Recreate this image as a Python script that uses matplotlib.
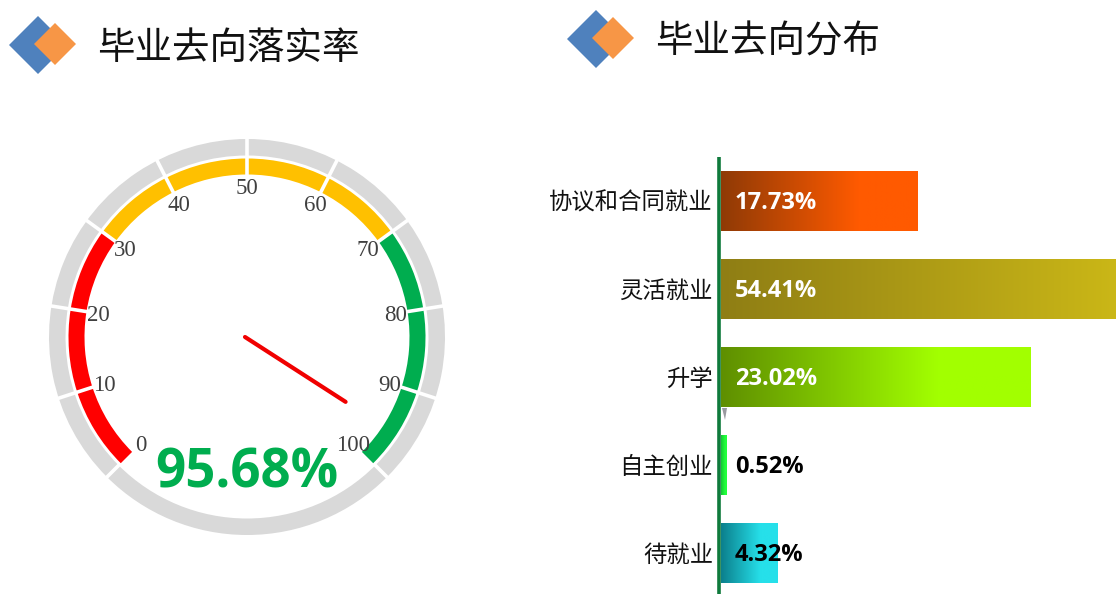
import numpy as np
import matplotlib
matplotlib.use("Agg")
import matplotlib.pyplot as plt
from matplotlib.colors import LinearSegmentedColormap
from matplotlib.patches import Polygon, Wedge

# -------------------------
# DATA
# -------------------------
gauge_value = 95.68
gauge_label = "95.68%"
gauge_ticks = [0, 10, 20, 30, 40, 50, 60, 70, 80, 90, 100]
red_bands = [(0, 10), (10, 20), (20, 30)]
yellow_bands = [(30, 40), (40, 50), (50, 60), (60, 70)]
green_bands = [(70, 80), (80, 90), (90, 100)]

categories = ["协议和合同就业", "灵活就业", "升学", "自主创业", "待就业"]
percent_labels = ["17.73%", "54.41%", "23.02%", "0.52%", "4.32%"]
# bar lengths as drawn in the picture (not quite in line with the labels)
bar_lengths = [14.6, 54.41, 23.0, 0.42, 4.2]
bar_dark = ["#8f3a06", "#8f7e14", "#5f8f00", "#12c832", "#0b7f8c"]
bar_bright = ["#ff5a00", "#dcc818", "#a2ff00", "#22ff3c", "#26e0ea"]
label_colors = ["white", "white", "white", "black", "black"]

title_left = "毕业去向落实率"
title_right = "毕业去向分布"

# -------------------------
# FIGURE
# -------------------------
W, H = 1116, 594
fig = plt.figure(figsize=(W / 100, H / 100), dpi=100, facecolor="white")
cjk = ["Noto Sans CJK SC", "DejaVu Sans"]

page = fig.add_axes([0, 0, 1, 1])
page.set_xlim(0, W)
page.set_ylim(H, 0)
page.axis("off")


# -------------------------
# HEADERS
# -------------------------
def diamond(cx, cy, r, color, z):
    pts = [(cx - r, cy), (cx, cy - r), (cx + r, cy), (cx, cy + r)]
    page.add_patch(Polygon(pts, closed=True, fc=color, ec="none", zorder=z))


def header(dx, dy, text, tx):
    diamond(38 + dx, 45 + dy, 29, "#4f81bd", 2)
    diamond(55 + dx, 44 + dy, 21, "#f79646", 3)
    page.text(tx, 48 + dy, text, fontsize=27, family=cjk, color="#111111",
              ha="left", va="center")


header(0, 0, title_left, 97)
header(558, -6, title_right, 655)

# -------------------------
# GAUGE
# -------------------------
cx, cy = 247, 337


def angle(v):
    # 0 sits lower left, 100 lower right, sweep of 270 degrees
    return 225 - 2.7 * v


def ring(v0, v1, r0, r1, color):
    # y axis is flipped on this axes, so angles are mirrored
    a0, a1 = -angle(v0), -angle(v1)
    page.add_patch(Wedge((cx, cy), r1, a0, a1, width=r1 - r0, fc=color,
                         ec="white", lw=0, zorder=2))


def gap(v, r0, r1, lw=3.6):
    t = np.deg2rad(angle(v))
    page.plot([cx + r0 * np.cos(t), cx + r1 * np.cos(t)],
              [cy - r0 * np.sin(t), cy - r1 * np.sin(t)],
              color="white", lw=lw * 0.72, solid_capstyle="butt", zorder=3)


# grey ring runs all the way round
ring(100, 133.33, 181.5, 198, "#d9d9d9")
ring(0, 100, 181.5, 198, "#d9d9d9")
for tick in gauge_ticks:
    gap(tick, 179, 200)

for bands, color in [(red_bands, "#ff0000"), (yellow_bands, "#ffc000"),
                     (green_bands, "#00ad4f")]:
    for v0, v1 in bands:
        ring(v0, v1, 162.5, 178.5, color)
for tick in gauge_ticks[1:-1]:
    gap(tick, 160, 181)

for tick in gauge_ticks:
    t = np.deg2rad(angle(tick))
    page.text(cx + 150 * np.cos(t), cy + 2 - 150 * np.sin(t), str(tick),
              family="Liberation Serif", fontsize=16.5, color="#404040",
              ha="center", va="center", zorder=5)

t = np.deg2rad(angle(gauge_value))
page.plot([cx - 2, cx + 118 * np.cos(t)], [cy, cy - 118 * np.sin(t)],
          color="#f00000", lw=3, solid_capstyle="round", zorder=4)
page.text(247, 473, gauge_label, family="Open Sans", weight="bold",
          fontsize=38, color="#00ad4f", ha="center", va="center", zorder=6)

# -------------------------
# BARS
# -------------------------
x0 = 721
ax = fig.add_axes([x0 / W, 0, (W - x0) / W, 1 - 157 / H])
ax.patch.set_alpha(0)
ax.axis("off")
rows = np.arange(len(categories))

bars = ax.barh(rows, bar_lengths, height=61 / 88, color="none")
for i, bar in enumerate(bars):
    cmap = LinearSegmentedColormap.from_list(
        "b", [(0, bar_dark[i]), (0.7, bar_bright[i]), (1, bar_bright[i])])
    grad = np.linspace(0, 1, 256).reshape(1, -1)
    y = bar.get_y()
    im = ax.imshow(grad, cmap=cmap, aspect="auto", zorder=2,
                   extent=[0, bar.get_width(), y + bar.get_height(), y])
    im.set_clip_path(bar)
    ax.text(1.04, i + 0.025, percent_labels[i], family="Open Sans", weight="bold",
            fontsize=17, color=label_colors[i], ha="left", va="center",
            zorder=4)
    ax.text(-8 / 13.47, i + 0.025, categories[i], family=cjk, fontsize=16.8,
            color="#111111", ha="right", va="center", clip_on=False, zorder=4)
# 13.47 px per unit, rows 88 px apart with the first centre at y=201
ax.set_xlim(0, (W - x0) / 13.47)
ax.set_ylim((594 - 201) / 88, (157 - 201) / 88)

# axis line and the small shadow under the third bar
page.plot([719, 719], [157, 594], color="#0f7a3c", lw=2.6, zorder=8,
          solid_capstyle="butt")
page.add_patch(Polygon([(722, 408), (727, 408), (725, 420)], closed=True,
                       fc="#9a9aa0", ec="none", zorder=3))

fig.savefig("out.png", dpi=100, facecolor="white")
